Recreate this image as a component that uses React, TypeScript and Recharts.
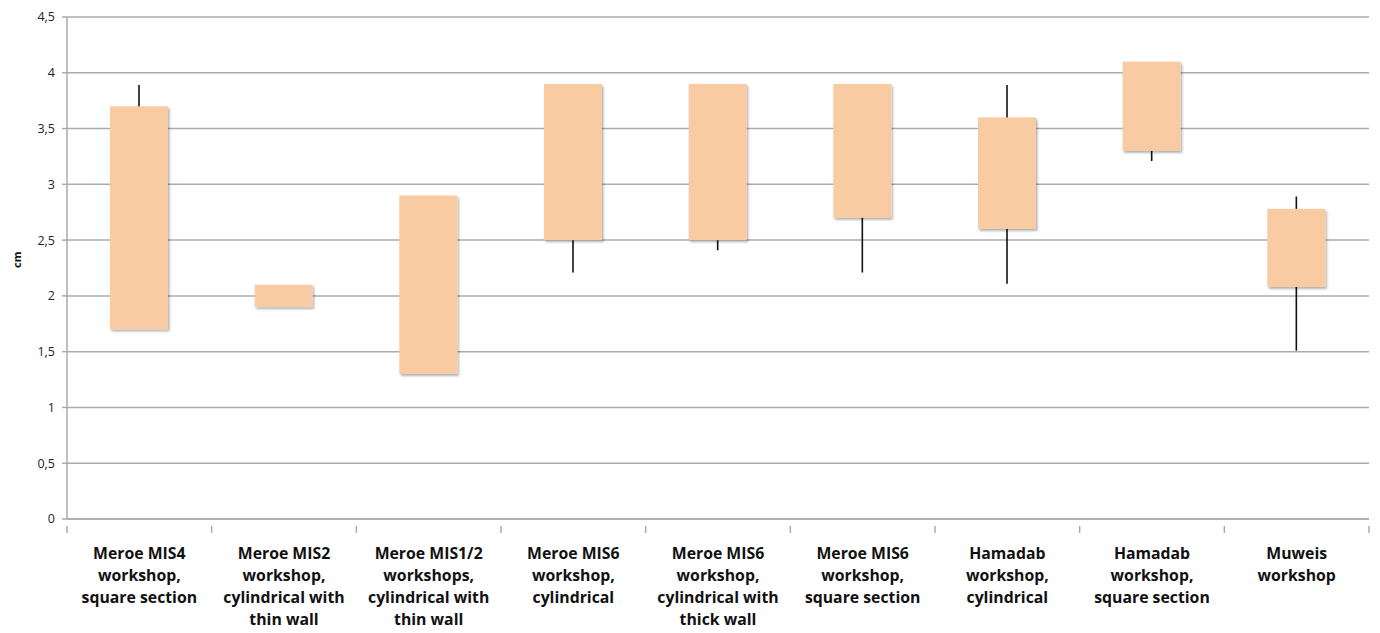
import React from 'react';
import { ComposedChart, Bar, XAxis, YAxis, CartesianGrid, Label } from 'recharts';

const categories = [
  'Meroe MIS4\nworkshop,\nsquare section',
  'Meroe MIS2\nworkshop,\ncylindrical with\nthin wall',
  'Meroe MIS1/2\nworkshops,\ncylindrical with\nthin wall',
  'Meroe MIS6\nworkshop,\ncylindrical',
  'Meroe MIS6\nworkshop,\ncylindrical with\nthick wall',
  'Meroe MIS6\nworkshop,\nsquare section',
  'Hamadab\nworkshop,\ncylindrical',
  'Hamadab\nworkshop,\nsquare section',
  'Muweis\nworkshop',
];
const boxLow = [1.7, 1.9, 1.3, 2.5, 2.5, 2.7, 2.6, 3.3, 2.08];
const boxHigh = [3.7, 2.1, 2.9, 3.9, 3.9, 3.9, 3.6, 4.1, 2.78];
const whiskerLow = [1.7, 1.9, 1.3, 2.2, 2.4, 2.2, 2.1, 3.2, 1.5];
const whiskerHigh = [3.9, 2.1, 2.9, 3.9, 3.9, 3.9, 3.9, 4.1, 2.9];
const yTicks = [0, 0.5, 1, 1.5, 2, 2.5, 3, 3.5, 4, 4.5];

const data = categories.map((name, i) => ({
  name,
  box: [boxLow[i], boxHigh[i]],
  whisker: [whiskerLow[i], whiskerHigh[i]],
}));

const W = 1380;
const H = 633;
const M = { top: 17, right: 11, left: 0, bottom: 0 };
const Y_AXIS_W = 67;
const BAND = (W - M.left - M.right - Y_AXIS_W) / categories.length;
const GRID = '#ababab';
const FONT = '"Open Sans", Calibri, sans-serif';

function CategoryTick(props: any) {
  const { x, y, payload, index } = props;
  const lines = String(payload.value).split('\n');
  return (
    <g>
      {index === 0 && <line x1={x - BAND / 2} x2={x - BAND / 2} y1={y - 1} y2={y + 6} stroke={GRID} strokeWidth={1.5} />}
      <line x1={x + BAND / 2} x2={x + BAND / 2} y1={y - 1} y2={y + 6} stroke={GRID} strokeWidth={1.5} />
      <text textAnchor="middle" fontFamily={FONT} fontWeight={700} fontSize={15.8} fill="#111">
        {lines.map((l, k) => (
          <tspan key={k} x={x} y={y + 32 + k * 22}>
            {l}
          </tspan>
        ))}
      </text>
    </g>
  );
}

function Whisker(props: any) {
  const { x, y, width, height } = props;
  const cx = x + width / 2;
  return <line x1={cx} x2={cx} y1={y + 1} y2={y + height - 1} stroke="#111" strokeWidth={1.6} />;
}

function Box(props: any) {
  const { x, y, width, height } = props;
  return <rect x={x} y={y} width={width} height={height} fill="#f9cba3" filter="url(#boxShadow)" />;
}

export default function App() {
  return (
    <div style={{ position: 'absolute', left: 0, top: 0, width: W, height: H, background: '#fff' }}>
      <ComposedChart width={W} height={H} data={data} margin={M}>
        <defs>
          <filter id="boxShadow" x="-10%" y="-10%" width="130%" height="130%">
            <feDropShadow dx="1.5" dy="2" stdDeviation="1.2" floodColor="#000" floodOpacity="0.3" />
          </filter>
        </defs>
        <CartesianGrid horizontal vertical={false} stroke={GRID} strokeWidth={1.5} />
        <XAxis
          dataKey="name"
          xAxisId="main"
          height={114}
          interval={0}
          tickLine={false}
          axisLine={{ stroke: GRID, strokeWidth: 1.5 }}
          tick={<CategoryTick />}
        />
        <XAxis dataKey="name" xAxisId="w" hide />
        <YAxis
          width={Y_AXIS_W}
          domain={[0, 4.5]}
          ticks={yTicks}
          interval={0}
          tickSize={5}
          tickMargin={7}
          tickFormatter={(v: number) => String(v).replace('.', ',')}
          tick={{ fontFamily: FONT, fontSize: 12.5, fill: '#222' }}
          axisLine={{ stroke: GRID, strokeWidth: 1.5 }}
          tickLine={{ stroke: GRID, strokeWidth: 1.5 }}
        >
          <Label
            value="cm"
            angle={-90}
            position="insideLeft"
            offset={17}
            style={{ fontFamily: FONT, fontSize: 11, fontWeight: 700, fill: '#111' }}
          />
        </YAxis>
        <Bar dataKey="whisker" xAxisId="w" barSize={58} shape={<Whisker />} isAnimationActive={false} />
        <Bar dataKey="box" xAxisId="main" barSize={58} shape={<Box />} isAnimationActive={false} />
      </ComposedChart>
    </div>
  );
}
